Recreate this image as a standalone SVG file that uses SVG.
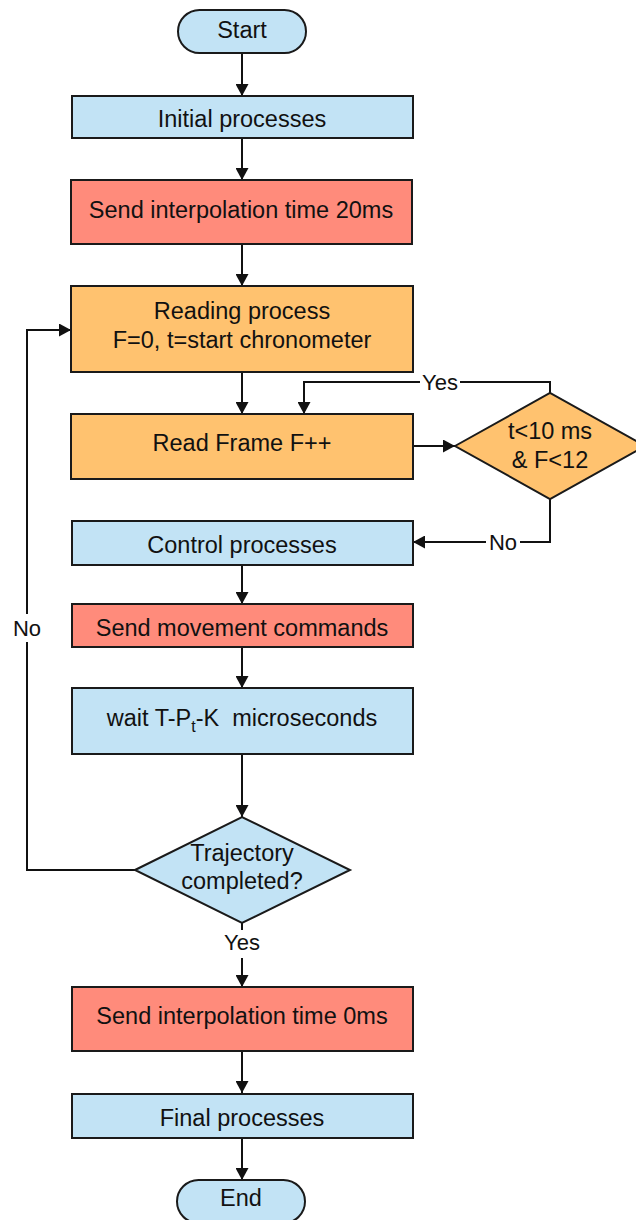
<svg xmlns="http://www.w3.org/2000/svg" width="636" height="1220" viewBox="0 0 636 1220">
<style>
.blue{fill:#c2e3f5;stroke:#1a1a1a;stroke-width:2}
.red{fill:#ff8b7b;stroke:#1a1a1a;stroke-width:2}
.orange{fill:#ffc26f;stroke:#1a1a1a;stroke-width:2}
text{font-family:"Liberation Sans",Arial,sans-serif;font-size:23.5px;fill:#111;text-anchor:middle}
.lbl{font-size:22px}
.c{fill:none;stroke:#111;stroke-width:2;marker-end:url(#ah)}
.n{fill:none;stroke:#111;stroke-width:2}
.bg{fill:#fff}
</style>
<defs>
<marker id="ah" markerUnits="userSpaceOnUse" markerWidth="12" markerHeight="13" refX="12" refY="6.5" orient="auto">
<path d="M0,0 L12,6.5 L0,13 z" fill="#111"/>
</marker>
</defs>
<g id="connectors">
<path class="c" d="M242,53 V96"/>
<path class="c" d="M242,138 V180"/>
<path class="c" d="M242,244 V286"/>
<path class="c" d="M242,372 V414"/>
<path class="c" d="M550,393 V382 H304 V414"/>
<path class="c" d="M413,446 H455"/>
<path class="c" d="M550,499 V542 H413"/>
<path class="c" d="M242,565 V604"/>
<path class="c" d="M242,647 V688"/>
<path class="c" d="M242,754 V817"/>
<path class="c" d="M135,870 H27 V330 H71"/>
<path class="n" d="M242,923 V930"/>
<path class="c" d="M242,958 V987"/>
<path class="c" d="M242,1051 V1093"/>
<path class="c" d="M242,1138 V1180"/>
<rect class="bg" x="420" y="370" width="40" height="24"/>
<text class="lbl" x="440" y="390">Yes</text>
<rect class="bg" x="486" y="530" width="34" height="24"/>
<text class="lbl" x="503" y="550">No</text>
<rect class="bg" x="10" y="614" width="34" height="28"/>
<text class="lbl" x="27" y="636">No</text>
<text class="lbl" x="242" y="950">Yes</text>
</g>
<g id="start">
<rect class="blue" x="178" y="10" width="128" height="43" rx="21.5"/>
<text x="242" y="38">Start</text>
</g>
<g id="initial">
<rect class="blue" x="72" y="96" width="341" height="42"/>
<text x="242" y="127">Initial processes</text>
</g>
<g id="send20">
<rect class="red" x="71" y="180" width="341" height="64"/>
<text x="241" y="218">Send interpolation time 20ms</text>
</g>
<g id="reading">
<rect class="orange" x="71" y="286" width="342" height="86"/>
<text x="242" y="319">Reading process</text>
<text x="242" y="348">F=0, t=start chronometer</text>
</g>
<g id="readframe">
<rect class="orange" x="71" y="414" width="342" height="65"/>
<text x="242" y="451">Read Frame F++</text>
</g>
<g id="cond">
<polygon class="orange" points="455,446 550,393 645,446 550,499"/>
<text x="550" y="439">t&lt;10 ms</text>
<text x="550" y="468">&amp; F&lt;12</text>
</g>
<g id="control">
<rect class="blue" x="72" y="521" width="341" height="44"/>
<text x="242" y="553">Control processes</text>
</g>
<g id="sendmove">
<rect class="red" x="72" y="604" width="341" height="43"/>
<text x="242" y="636">Send movement commands</text>
</g>
<g id="wait">
<rect class="blue" x="72" y="688" width="341" height="66"/>
<text x="242" y="726">wait T-P<tspan font-size="16" dy="6">t</tspan><tspan dy="-6">-K&#160; microseconds</tspan></text>
</g>
<g id="trajectory">
<polygon class="blue" points="135,870 242,817 350,870 242,923"/>
<text x="242" y="861">Trajectory</text>
<text x="242" y="889">completed?</text>
</g>
<g id="send0">
<rect class="red" x="72" y="987" width="341" height="64"/>
<text x="242" y="1024">Send interpolation time 0ms</text>
</g>
<g id="final">
<rect class="blue" x="72" y="1094" width="341" height="44"/>
<text x="242" y="1126">Final processes</text>
</g>
<g id="end">
<rect class="blue" x="177" y="1180" width="128" height="43" rx="21.5"/>
<text x="241" y="1206">End</text>
</g>
</svg>
